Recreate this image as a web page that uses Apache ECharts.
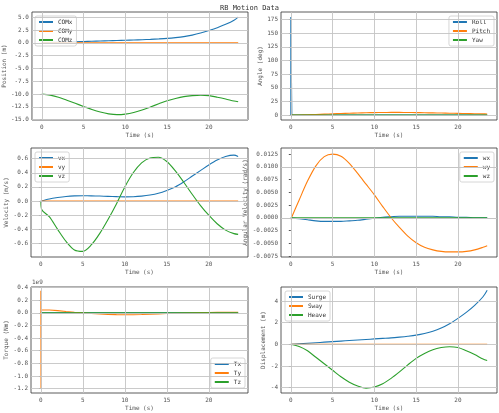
<!DOCTYPE html>
<html>
<head>
<meta charset="utf-8">
<script src="https://cdn.jsdelivr.net/npm/echarts@6/dist/echarts.min.js"></script>
<style>html,body{margin:0;padding:0;background:#fff}#chart{width:499px;height:413px}</style>
</head>
<body>
<div id="chart"></div>
<script>
var times = [0, 1, 2, 3, 4, 5, 6, 7, 8, 9, 10, 11, 12, 13, 14, 15, 16, 17, 18, 19, 20, 21, 22, 23, 23.5];
var comX = [0, 0.05, 0.1, 0.15, 0.2, 0.25, 0.3, 0.35, 0.4, 0.45, 0.5, 0.55, 0.6, 0.67, 0.75, 0.85, 1.0, 1.2, 1.5, 1.9, 2.4, 2.95, 3.6, 4.4, 5.0];
var comY = [0, 0, 0, 0, 0, 0, 0, 0, 0, 0, 0, 0, 0, 0, 0, 0, 0, 0, 0, 0, 0, 0, 0, 0, 0];
var comZ = [-10, -10.2, -10.6, -11.2, -11.8, -12.4, -13.0, -13.5, -13.85, -14.0, -13.9, -13.6, -13.1, -12.5, -11.9, -11.3, -10.85, -10.5, -10.3, -10.2, -10.3, -10.6, -10.95, -11.35, -11.5];
var pitch = [0, 0.2, 0.6, 1.1, 1.7, 2.3, 2.9, 3.4, 3.9, 4.3, 4.6, 4.8, 4.9, 4.9, 4.8, 4.6, 4.3, 4.0, 3.7, 3.4, 3.1, 2.8, 2.5, 2.2, 2.1];
var rollPts = [[0, 0], [0, 180], [0.1, 180], [0.12, 0], [23.5, 0]];
var vx = [0, 0.03, 0.05, 0.065, 0.073, 0.075, 0.074, 0.071, 0.067, 0.063, 0.06, 0.062, 0.07, 0.085, 0.11, 0.15, 0.2, 0.27, 0.35, 0.43, 0.51, 0.58, 0.63, 0.65, 0.63];
var vy = [0, 0, 0, 0, 0, 0, 0, 0, 0, 0, 0, 0, 0, 0, 0, 0, 0, 0, 0, 0, 0, 0, 0, 0, 0];
var vz = [-0.12, -0.22, -0.4, -0.57, -0.69, -0.71, -0.62, -0.46, -0.26, -0.04, 0.2, 0.4, 0.54, 0.61, 0.62, 0.56, 0.43, 0.27, 0.1, -0.06, -0.2, -0.32, -0.41, -0.46, -0.47];
var wx = [0, -0.0002, -0.0004, -0.0006, -0.0007, -0.0007, -0.0007, -0.0006, -0.0005, -0.0003, -0.0001, 0.0001, 0.0002, 0.0003, 0.0003, 0.0003, 0.0003, 0.0003, 0.0002, 0.0002, 0.0001, 0.0001, 0, 0, 0];
var wy = [-0.0003, 0.0035, 0.0072, 0.0102, 0.012, 0.0125, 0.0121, 0.0107, 0.0087, 0.0066, 0.0045, 0.0022, 0, -0.0019, -0.0036, -0.0049, -0.0058, -0.0063, -0.0066, -0.0067, -0.0067, -0.0066, -0.0063, -0.0058, -0.0055];
var wz = [0, 0, 0, 0, 0, 0, 0, 0, 0, 0, 0, 0, 0, 0, 0, 0, 0, 0, 0, 0, 0, 0, 0, 0, 0];
var tyPts = [[0, 0], [0, 0.35], [0.02, -1.2], [0.05, 0.05], [1, 0.045], [2, 0.035], [3, 0.022], [4, 0.01], [5, 0], [6, -0.01], [7, -0.018], [8, -0.024], [9, -0.028], [10, -0.03], [11, -0.029], [12, -0.026], [13, -0.021], [14, -0.016], [15, -0.011], [16, -0.006], [17, -0.002], [18, 0.002], [19, 0.005], [20, 0.007], [21, 0.009], [22, 0.01], [23, 0.011], [23.5, 0.011]];
var surge = comX;
var heave = [0, -0.2, -0.6, -1.2, -1.8, -2.4, -3.0, -3.5, -3.85, -4.05, -3.95, -3.65, -3.15, -2.55, -1.9, -1.3, -0.85, -0.5, -0.3, -0.22, -0.3, -0.6, -0.95, -1.35, -1.5];

var C = ['#1f77b4', '#ff7f0e', '#2ca02c'];
var font = 'DejaVu Sans Mono';
var grids = [
  {left: 31, top: 12, width: 217, height: 108},
  {left: 281, top: 12, width: 216, height: 108},
  {left: 31, top: 148, width: 217, height: 109},
  {left: 281, top: 148, width: 216, height: 109},
  {left: 31, top: 287, width: 217, height: 106},
  {left: 281, top: 287, width: 216, height: 106}
];
var yConf = [
  {name: 'Position (m)', min: -15.05, max: 6, ticks: [-15, -12.5, -10, -7.5, -5, -2.5, 0, 2.5, 5], fmt: function (v) { return v.toFixed(1); }},
  {name: 'Angle (deg)', min: -9, max: 189, ticks: [0, 25, 50, 75, 100, 125, 150, 175], fmt: function (v) { return String(v); }},
  {name: 'Velocity (m/s)', min: -0.79, max: 0.75, ticks: [-0.6, -0.4, -0.2, 0, 0.2, 0.4, 0.6], fmt: function (v) { return v.toFixed(1); }},
  {name: 'Angular Velocity (rad/s)', min: -0.0077, max: 0.0137, ticks: [-0.0075, -0.005, -0.0025, 0, 0.0025, 0.005, 0.0075, 0.01, 0.0125], fmt: function (v) { return v.toFixed(4); }},
  {name: 'Torque (Nm)', min: -1.27, max: 0.41, ticks: [-1.2, -1, -0.8, -0.6, -0.4, -0.2, 0, 0.2, 0.4], fmt: function (v) { return v.toFixed(1); }},
  {name: 'Displacement (m)', min: -4.5, max: 5.3, ticks: [-4, -2, 0, 2, 4], fmt: function (v) { return String(v); }}
];
var xTicks = [0, 5, 10, 15, 20];

function pairs(ys) {
  return ys.map(function (y, i) { return [times[i], y]; });
}
function line(name, gi, data, color) {
  return {name: name, type: 'line', xAxisIndex: gi, yAxisIndex: gi, data: data, showSymbol: false, z: 3, color: color,
    smooth: data.length > 6 ? 0.3 : false, lineStyle: {color: color, width: 1.1}, itemStyle: {color: color}, animation: false};
}
// grid lines at the tick values, drawn through each grid's own axes
function gridLines(gi) {
  var d = xTicks.map(function (v) { return {xAxis: v}; }).concat(yConf[gi].ticks.map(function (v) { return {yAxis: v}; }));
  return {type: 'line', xAxisIndex: gi, yAxisIndex: gi, data: [], z: 1, animation: false, silent: true,
    markLine: {silent: true, symbol: 'none', label: {show: false}, animation: false,
      lineStyle: {color: '#c4c4c4', width: 0.9, type: 'solid'}, data: d}};
}
var vzPts = [[0, 0]].concat(pairs(vz).map(function (p, i) { return i === 0 ? [0.1, p[1]] : p; }));

var series = [
  line('COMx', 0, pairs(comX), C[0]), line('COMy', 0, pairs(comY), C[1]), line('COMz', 0, pairs(comZ), C[2]),
  line('Roll', 1, rollPts, C[0]), line('Pitch', 1, pairs(pitch), C[1]), line('Yaw', 1, pairs(comY), C[2]),
  line('vx', 2, pairs(vx), C[0]), line('vy', 2, pairs(vy), C[1]), line('vz', 2, vzPts, C[2]),
  line('wx', 3, pairs(wx), C[0]), line('wy', 3, pairs(wy), C[1]), line('wz', 3, pairs(wz), C[2]),
  line('Tx', 4, pairs(comY), C[0]), line('Ty', 4, tyPts, C[1]), line('Tz', 4, pairs(comY), C[2]),
  line('Surge', 5, pairs(surge), C[0]), line('Sway', 5, pairs(comY), C[1]), line('Heave', 5, pairs(heave), C[2])
];
series[13].smooth = false;
series[3].smooth = false;

var legendPos = [
  {left: 35, top: 16}, {right: 5, top: 16}, {left: 35, top: 152},
  {right: 5, top: 152}, {right: 254, top: 358}, {left: 285, top: 291}
];
var legends = legendPos.map(function (p, i) {
  return Object.assign({
    orient: 'vertical', data: series.slice(i * 3, i * 3 + 3).map(function (s) { return {name: s.name, itemStyle: {color: s.color, borderWidth: 0}}; }),
    itemWidth: 14, itemHeight: 2, itemGap: 3, padding: [3, 4], icon: 'rect',
    backgroundColor: 'rgba(255,255,255,0.8)', borderColor: '#ccc', borderWidth: 0.8, borderRadius: 2,
    textStyle: {fontFamily: font, fontSize: 6, color: '#333'}
  }, p);
});
for (var g = 0; g < 6; g++) series.push(gridLines(g));

var option = {
  backgroundColor: '#fff',
  title: {text: 'RB Motion Data', left: 'center', top: 0, textStyle: {fontFamily: font, fontSize: 7, fontWeight: 'normal', color: '#333'}},
  grid: grids.map(function (g) { return Object.assign({show: true, borderColor: '#333', borderWidth: 0.8, backgroundColor: '#fff'}, g); }),
  legend: legends,
  graphic: [{type: 'text', left: 32, top: 279, style: {text: '1e9', fontFamily: font, fontSize: 6, fill: '#555'}}],
  xAxis: grids.map(function (g, i) {
    return {type: 'value', gridIndex: i, min: -1.175, max: 24.675, name: 'Time (s)', nameLocation: 'middle', nameGap: 12,
      nameTextStyle: {fontFamily: font, fontSize: 6, color: '#555'},
      axisLine: {show: false}, axisTick: {show: true, length: 2, customValues: xTicks, lineStyle: {color: '#555'}},
      axisLabel: {customValues: xTicks, fontFamily: font, fontSize: 6, color: '#555', margin: 4},
      splitLine: {show: false}};
  }),
  yAxis: yConf.map(function (c, i) {
    return {type: 'value', gridIndex: i, min: c.min, max: c.max, name: c.name, nameLocation: 'middle', nameGap: i === 3 ? 28 : (i === 1 ? 18 : (i === 5 ? 12 : 20)),
      nameTextStyle: {fontFamily: font, fontSize: 6, color: '#555'},
      axisLine: {show: false}, axisTick: {show: true, length: 2, customValues: c.ticks, lineStyle: {color: '#555'}},
      axisLabel: {customValues: c.ticks, formatter: c.fmt, fontFamily: font, fontSize: 6, color: '#555', margin: 3},
      splitLine: {show: false}};
  }),
  series: series
};
var myChart = echarts.init(document.getElementById('chart'));
myChart.setOption(option);
</script>
</body>
</html>
